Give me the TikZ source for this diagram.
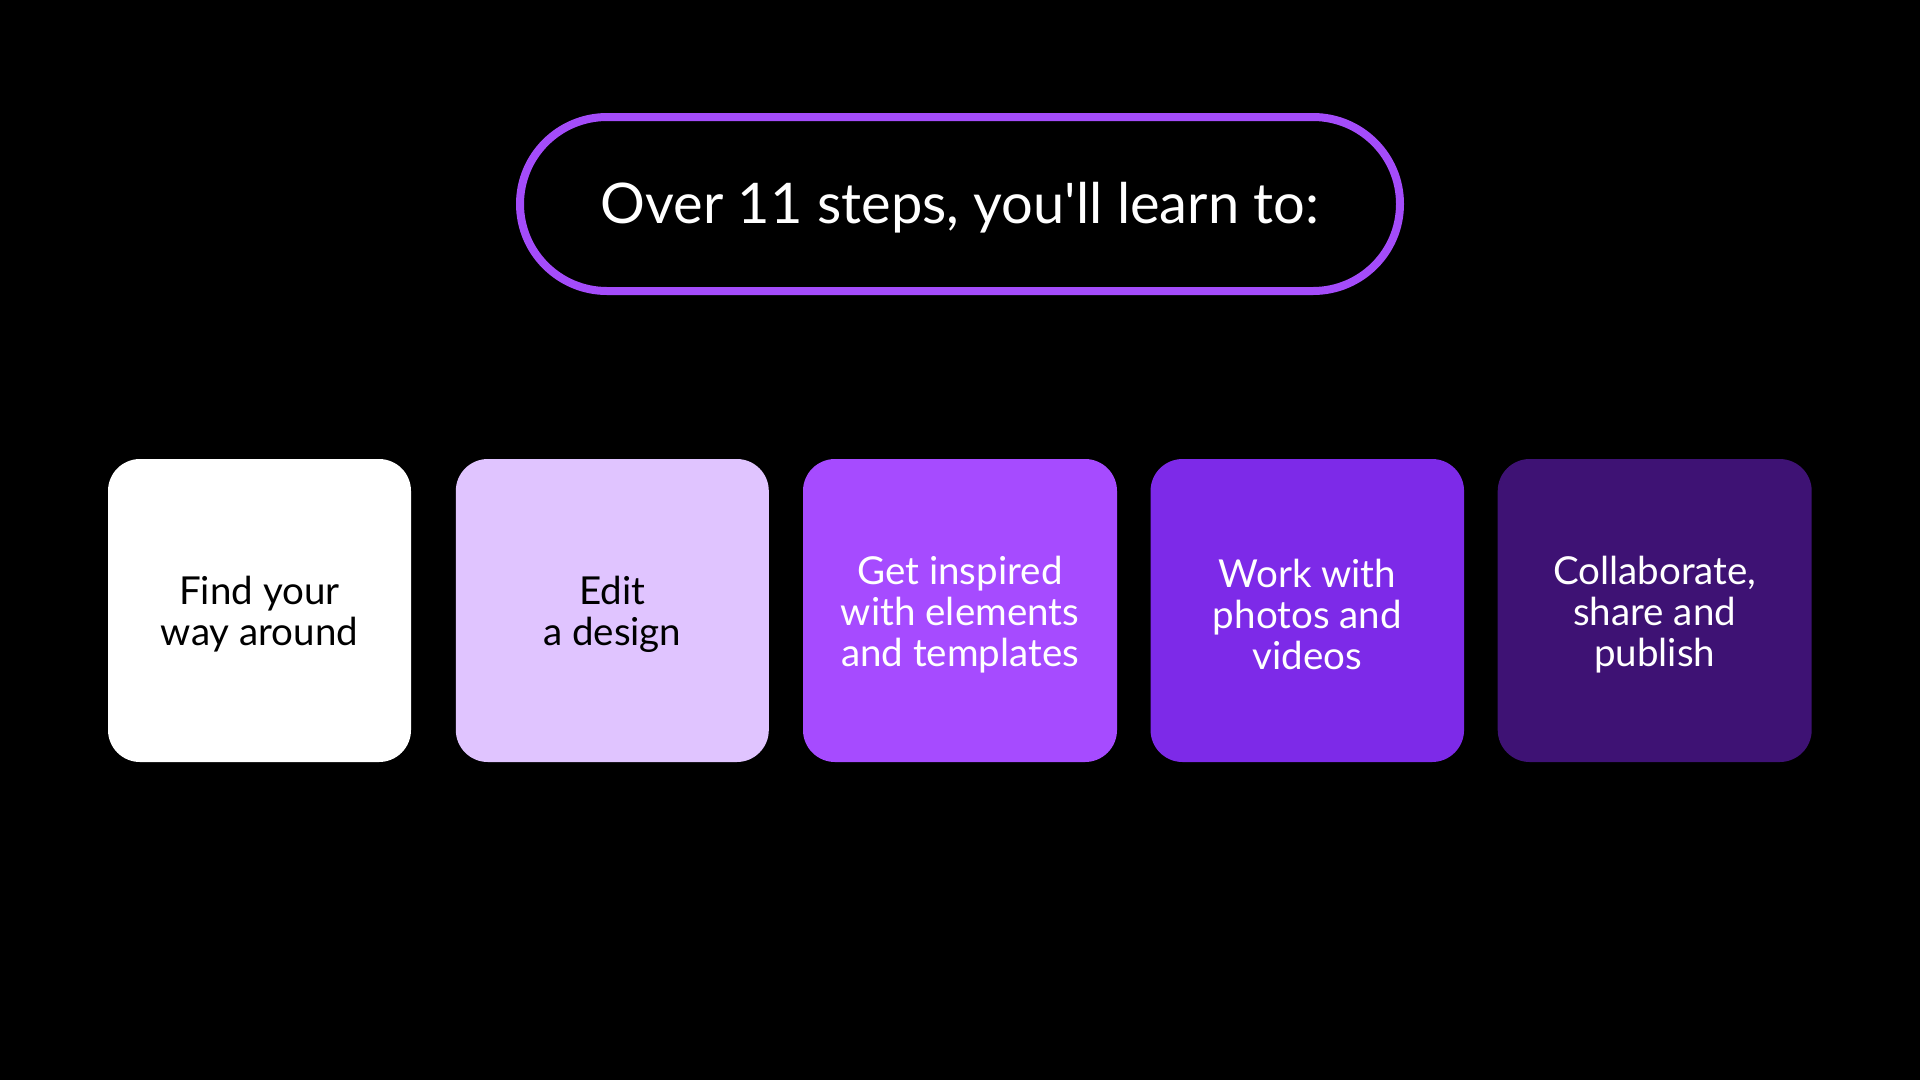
\documentclass[tikz,border=0pt]{standalone}
\usepackage{fontspec}
\setmainfont{Lato}[Ligatures=TeXOff]
\definecolor{pillc}{RGB}{164,76,250}
\definecolor{cA}{RGB}{255,255,255}
\definecolor{cB}{RGB}{224,196,255}
\definecolor{cC}{RGB}{166,75,255}
\definecolor{cD}{RGB}{125,42,232}
\definecolor{cE}{RGB}{62,18,116}
\begin{document}
\begin{tikzpicture}[x=1pt,y=-1pt,
  stepbox/.style={rectangle, rounded corners=32pt, minimum height=303pt, inner sep=0pt},
  steptext/.style={inner sep=0pt, align=center, font=\fontsize{38.5}{41}\selectfont},
  pill/.style={draw=pillc, line width=8pt, rounded corners=87pt, minimum width=880pt,
    minimum height=174pt, inner sep=0pt},
  titletext/.style={inner sep=0pt, text=white, font=\fontsize{56}{60}\selectfont}]
\fill[black] (0,0) rectangle (1920,1080);
\useasboundingbox (0,0) rectangle (1920,1080);
\node[pill] (title) at (960,204) {};
\node[titletext] (tt) at ([yshift=-4pt]title.center) {Over 11 steps, you'll learn to:};
\node[stepbox, fill=cA, minimum width=303pt] (s1) at (259.5,610.5) {};
\node[stepbox, fill=cB, minimum width=313pt] (s2) at (612.3,610.5) {};
\node[stepbox, fill=cC, minimum width=314pt] (s3) at (960,610.5) {};
\node[stepbox, fill=cD, minimum width=313.5pt] (s4) at (1307.3,610.5) {};
\node[stepbox, fill=cE, minimum width=314pt] (s5) at (1654.7,610.5) {};
\node[steptext, text=black] (t1) at ([yshift=-4pt]s1.center) {Find your\\way around};
\node[steptext, text=black] (t2) at ([yshift=-4pt]s2.center) {Edit\\a design};
\node[steptext, text=white] (t3) at ([yshift=-4pt]s3.center) {Get inspired\\with elements\\and templates};
\node[steptext, text=white] (t4) at ([yshift=-4pt]s4.center) {Work with\\photos and\\videos};
\node[steptext, text=white] (t5) at ([yshift=-4pt]s5.center) {Collaborate,\\share and\\publish};
\end{tikzpicture}
\end{document}
